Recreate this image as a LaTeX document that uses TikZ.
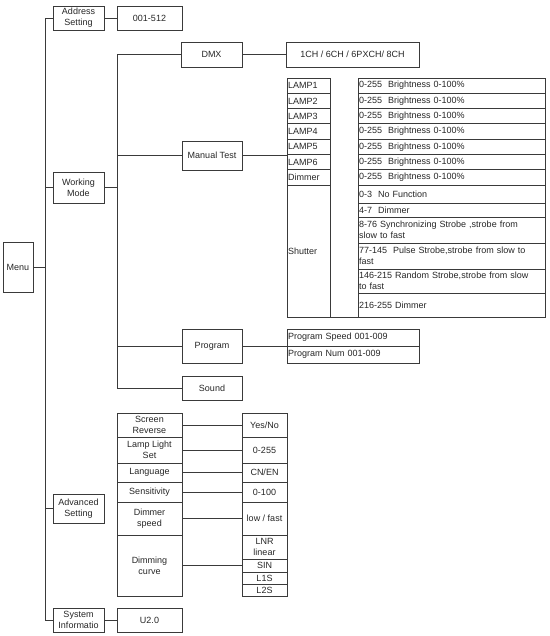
\documentclass[tikz,border=0pt]{standalone}
\usepackage{fontspec}
\setmainfont{Liberation Sans}
\usetikzlibrary{positioning}
\definecolor{linec}{HTML}{3A3A3A}
\definecolor{textc}{HTML}{262626}
\newcommand{\cellfont}{\fontsize{9}{11}\selectfont}

\begin{document}
\begin{tikzpicture}[x=1pt,y=-1pt,
  box/.style={draw=linec,line width=.8pt,inner xsep=1pt,inner ysep=0pt,align=center,font=\cellfont,text=textc},
  lbox/.style={box,align=left,inner xsep=1.2pt},
  wire/.style={draw=linec,line width=.8pt}]
\useasboundingbox (0,0) rectangle (549,636);
\coordinate (trunkA) at (45,0);
\coordinate (trunkB) at (117,0);
% first level
\node[box,minimum width=30pt,minimum height=50pt] (menu) at (18,267) {Menu};
\node[box,minimum width=51pt,minimum height=24pt] (addr) at (78.5,18) {Address\\Setting};
\node[box,minimum width=65pt,minimum height=24pt] (addrval) at (149.5,18) {001-512};
\node[box,minimum width=51pt,minimum height=31pt] (work) at (78.5,187.5) {Working\\Mode};
\node[box,minimum width=51pt,minimum height=29pt] (adv) at (78.5,508.5) {Advanced\\Setting};
\node[box,minimum width=51pt,minimum height=24pt] (sys) at (78.5,620) {System\\Informatio};
\node[box,minimum width=65pt,minimum height=24pt] (sysval) at (149.5,620) {U2.0};
% working mode
\node[box,minimum width=61pt,minimum height=25pt] (dmx) at (211.5,54.5) {DMX};
\node[box,minimum width=133pt,minimum height=25pt] (dmxval) at (352.5,54.5) {1CH / 6CH / 6PXCH/ 8CH};
\node[box,minimum width=60pt,minimum height=29pt] (manual) at (212,155.5) {Manual Test};
\node[box,minimum width=60pt,minimum height=34pt] (prog) at (212,346) {Program};
\node[box,minimum width=60pt,minimum height=24pt] (sound) at (212,388) {Sound};
% manual test table
\node[lbox,text width=40.6pt,minimum width=43pt,minimum height=15.3pt] (lamp1) at (308.5,85.65) {LAMP1};
\node[lbox,text width=40.6pt,minimum width=43pt,minimum height=15.3pt] (lamp2) at (308.5,100.95) {LAMP2};
\node[lbox,text width=40.6pt,minimum width=43pt,minimum height=15.3pt] (lamp3) at (308.5,116.25) {LAMP3};
\node[lbox,text width=40.6pt,minimum width=43pt,minimum height=15.3pt] (lamp4) at (308.5,131.55) {LAMP4};
\node[lbox,text width=40.6pt,minimum width=43pt,minimum height=15.3pt] (lamp5) at (308.5,146.85) {LAMP5};
\node[lbox,text width=40.6pt,minimum width=43pt,minimum height=15.3pt] (lamp6) at (308.5,162.15) {LAMP6};
\node[lbox,text width=40.6pt,minimum width=43pt,minimum height=15.3pt] (dim) at (308.5,177.45) {Dimmer};
\node[lbox,text width=40.6pt,minimum width=43pt,minimum height=131.9pt] (shut) at (308.5,251.05) {Shutter};
\node[lbox,text width=184.6pt,minimum width=187pt,minimum height=15.3pt] (lampval1) at (451.5,85.65) {0-255\ \ Brightness 0-100\%};
\node[lbox,text width=184.6pt,minimum width=187pt,minimum height=15.3pt] (lampval2) at (451.5,100.95) {0-255\ \ Brightness 0-100\%};
\node[lbox,text width=184.6pt,minimum width=187pt,minimum height=15.3pt] (lampval3) at (451.5,116.25) {0-255\ \ Brightness 0-100\%};
\node[lbox,text width=184.6pt,minimum width=187pt,minimum height=15.3pt] (lampval4) at (451.5,131.55) {0-255\ \ Brightness 0-100\%};
\node[lbox,text width=184.6pt,minimum width=187pt,minimum height=15.3pt] (lampval5) at (451.5,146.85) {0-255\ \ Brightness 0-100\%};
\node[lbox,text width=184.6pt,minimum width=187pt,minimum height=15.3pt] (lampval6) at (451.5,162.15) {0-255\ \ Brightness 0-100\%};
\node[lbox,text width=184.6pt,minimum width=187pt,minimum height=15.3pt] (dimval) at (451.5,177.45) {0-255\ \ Brightness 0-100\%};
\node[lbox,text width=184.6pt,minimum width=187pt,minimum height=17.9pt] (shutval1) at (451.5,194.05) {0-3\ \ No Function};
\node[lbox,text width=184.6pt,minimum width=187pt,minimum height=14pt] (shutval2) at (451.5,210) {4-7\ \ Dimmer};
\node[lbox,text width=184.6pt,minimum width=187pt,minimum height=26pt] (shutval3) at (451.5,230) {8-76 Synchronizing Strobe ,strobe from\\slow to fast};
\node[lbox,text width=184.6pt,minimum width=187pt,minimum height=26pt] (shutval4) at (451.5,256) {77-145\ \ Pulse Strobe,strobe from slow to\\fast};
\node[lbox,text width=184.6pt,minimum width=187pt,minimum height=24pt] (shutval5) at (451.5,281) {146-215 Random Strobe,strobe from slow\\to fast};
\node[lbox,text width=184.6pt,minimum width=187pt,minimum height=24pt] (shutval6) at (451.5,305) {216-255 Dimmer};
% program table
\node[lbox,text width=129.6pt,minimum width=132pt,minimum height=17pt] (pspeed) at (353,337.5) {Program Speed 001-009};
\node[lbox,text width=129.6pt,minimum width=132pt,minimum height=17pt] (pnum) at (353,354.5) {Program Num 001-009};
% advanced setting table
\node[box,minimum width=65pt,minimum height=24pt] (rev) at (149.5,425) {Screen\\Reverse};
\node[box,minimum width=65pt,minimum height=26pt] (lls) at (149.5,450) {Lamp Light\\Set};
\node[box,minimum width=65pt,minimum height=19pt] (lang) at (149.5,472.5) {Language};
\node[box,minimum width=65pt,minimum height=20pt] (sens) at (149.5,492) {Sensitivity};
\node[box,minimum width=65pt,minimum height=33pt] (dspeed) at (149.5,518.5) {Dimmer\\speed};
\node[box,minimum width=65pt,minimum height=61pt] (dcurve) at (149.5,565.5) {Dimming\\curve};
\node[box,minimum width=45pt,minimum height=24pt] (revval) at (264.5,425) {Yes/No};
\node[box,minimum width=45pt,minimum height=26pt] (llsval) at (264.5,450) {0-255};
\node[box,minimum width=45pt,minimum height=19pt] (langval) at (264.5,472.5) {CN/EN};
\node[box,minimum width=45pt,minimum height=20pt] (sensval) at (264.5,492) {0-100};
\node[box,minimum width=45pt,minimum height=33pt] (dspeedval) at (264.5,518.5) {low / fast};
\node[box,minimum width=45pt,minimum height=24pt] (lnr) at (264.5,547) {LNR\\linear};
\node[box,minimum width=45pt,minimum height=13pt] (sin) at (264.5,565.5) {SIN};
\node[box,minimum width=45pt,minimum height=12pt] (lones) at (264.5,578) {L1S};
\node[box,minimum width=45pt,minimum height=12pt] (ltwos) at (264.5,590) {L2S};
% connectors
\draw[wire] (addr.west) -- (addr.west -| trunkA) -- (sys.west -| trunkA) -- (sys.west);
\draw[wire] (menu.east) -- (menu.east -| trunkA);
\draw[wire] (work.west) -- (work.west -| trunkA);
\draw[wire] (adv.west) -- (adv.west -| trunkA);
\draw[wire] (addr.east) -- (addrval.west);
\draw[wire] (sys.east) -- (sysval.west);
\draw[wire] (dmx.west) -- (dmx.west -| trunkB) -- (sound.west -| trunkB) -- (sound.west);
\draw[wire] (work.east) -- (work.east -| trunkB);
\draw[wire] (manual.west) -- (manual.west -| trunkB);
\draw[wire] (prog.west) -- (prog.west -| trunkB);
\draw[wire] (dmx.east) -- (dmxval.west);
\draw[wire] (manual.east) -- (manual.east -| lamp6.west);
\draw[wire] (shut.south east) -- (shutval6.south west);
\draw[wire] (prog.east) -- (prog.east -| pnum.west);
\draw[wire] (rev.east) -- (revval.west);
\draw[wire] (lls.east) -- (llsval.west);
\draw[wire] (lang.east) -- (langval.west);
\draw[wire] (sens.east) -- (sensval.west);
\draw[wire] (dspeed.east) -- (dspeedval.west);
\draw[wire] (dcurve.east) -- (dcurve.east -| sin.west);
\end{tikzpicture}
\end{document}
